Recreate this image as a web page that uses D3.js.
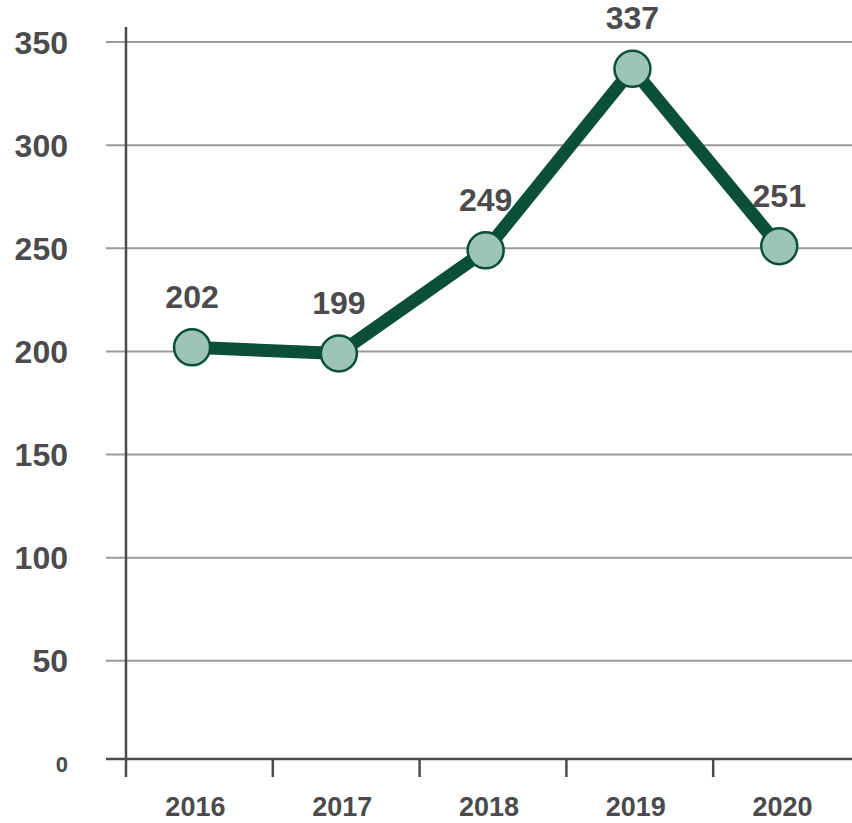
<!DOCTYPE html>
<html>
<head>
<meta charset="utf-8">
<script src="https://cdn.jsdelivr.net/npm/d3@7"></script>
<style>
    body { margin: 0; background: #fff; }
    text { font-family: "Liberation Sans", Arial, Helvetica, sans-serif; font-weight: bold; fill: #4b4b4d; }
</style>
</head>
<body>
<svg id="chart" width="852" height="823"></svg>
<script>
/**
 * Data.
 */
const years = ['2016', '2017', '2018', '2019', '2020'];
const values = [202, 199, 249, 337, 251];
const yTicks = [0, 50, 100, 150, 200, 250, 300, 350];

/**
 * Visual configs.
 */
const axisX = 126, axisY = 759,
    gridColor = '#9b9b9d',
    axisColor = '#4b4b4d',
    lineColor = '#0c4f37',
    dotFill = '#9cc4b9',
    dotRadius = 18;

const svg = d3.select('#chart');

const xScale = d3.scaleBand().domain(years).range([axisX, 860]);
const yScale = d3.scaleLinear().domain([0, 350]).range([764, 42]);

const pointX = d => xScale(d) + xScale.bandwidth() * 0.45;

// Gridlines
svg.append('g').attr('class', 'grid')
    .selectAll('line')
    .data(yTicks.filter(d => d > 0))
    .join('line')
        .attr('x1', 106)
        .attr('x2', 852)
        .attr('y1', d => yScale(d))
        .attr('y2', d => yScale(d))
        .attr('stroke', gridColor)
        .attr('stroke-width', 2);

// Y labels
svg.append('g').attr('class', 'y-labels')
    .selectAll('text')
    .data(yTicks)
    .join('text')
        .attr('x', 68)
        .attr('y', d => yScale(d))
        .attr('dy', '0.36em')
        .attr('text-anchor', 'end')
        .style('font-size', d => d === 0 ? '22px' : '32px')
        .text(d => d);

// Axes
svg.append('line')
    .attr('x1', 106).attr('x2', 852)
    .attr('y1', axisY).attr('y2', axisY)
    .attr('stroke', axisColor).attr('stroke-width', 2.5);

svg.append('line')
    .attr('x1', axisX).attr('x2', axisX)
    .attr('y1', 27).attr('y2', 777)
    .attr('stroke', axisColor).attr('stroke-width', 2.5);

svg.append('g').attr('class', 'x-ticks')
    .selectAll('line')
    .data(years.slice(1))
    .join('line')
        .attr('x1', d => xScale(d))
        .attr('x2', d => xScale(d))
        .attr('y1', axisY)
        .attr('y2', 777)
        .attr('stroke', axisColor)
        .attr('stroke-width', 2.5);

svg.append('g').attr('class', 'x-labels')
    .selectAll('text')
    .data(years)
    .join('text')
        .attr('x', d => xScale(d) + xScale.bandwidth() / 2 - 4)
        .attr('y', 806)
        .attr('dy', '0.36em')
        .attr('text-anchor', 'middle')
        .style('font-size', '27px')
        .text(d => d);

// Line
const data = years.map((y, i) => ({ year: y, value: values[i] }));

const line = d3.line()
    .x(d => pointX(d.year))
    .y(d => yScale(d.value));

svg.append('path')
    .datum(data)
    .attr('d', line)
    .attr('fill', 'none')
    .attr('stroke', lineColor)
    .attr('stroke-width', 13)
    .attr('stroke-linejoin', 'round');

// Dots
svg.append('g').attr('class', 'dots')
    .selectAll('circle')
    .data(data)
    .join('circle')
        .attr('cx', d => pointX(d.year))
        .attr('cy', d => yScale(d.value))
        .attr('r', dotRadius)
        .attr('fill', dotFill)
        .attr('stroke', lineColor)
        .attr('stroke-width', 2.5);

// Value labels
svg.append('g').attr('class', 'value-labels')
    .selectAll('text')
    .data(data)
    .join('text')
        .attr('x', d => pointX(d.year))
        .attr('y', d => yScale(d.value) - 51)
        .attr('dy', '0.36em')
        .attr('text-anchor', 'middle')
        .style('font-size', '32px')
        .text(d => d.value);
</script>
</body>
</html>
